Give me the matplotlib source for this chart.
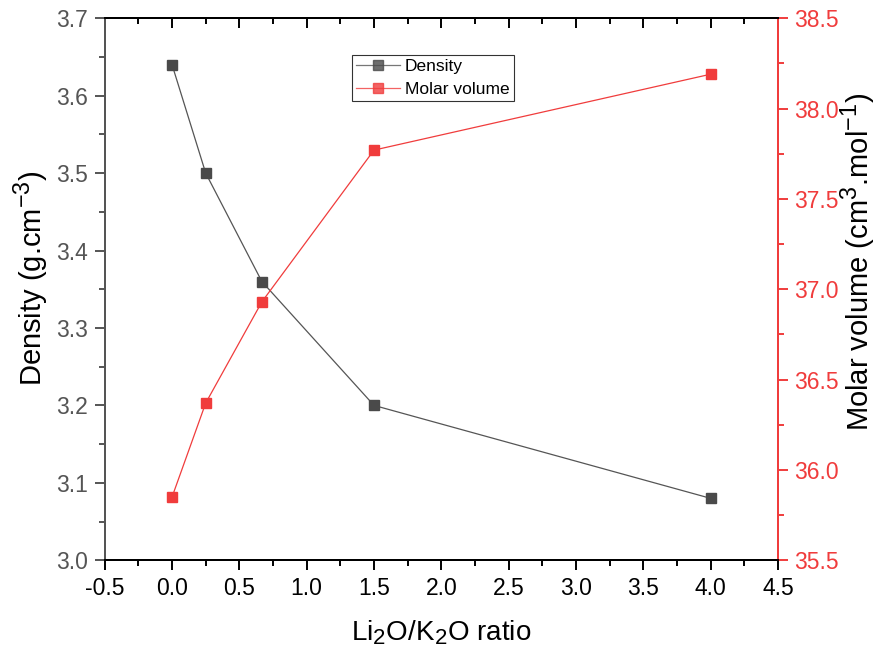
import numpy as np
import matplotlib as mpl
import matplotlib.pyplot as plt
from matplotlib.ticker import MultipleLocator, FormatStrFormatter

mpl.rcParams['font.family'] = ['Liberation Sans', 'DejaVu Sans']
mpl.rcParams['mathtext.fontset'] = 'custom'
mpl.rcParams['mathtext.rm'] = 'Liberation Sans'
mpl.rcParams['mathtext.it'] = 'Liberation Sans:italic'
try:
    # slightly larger super/subscripts, closer to the original
    import matplotlib._mathtext as _mt
    _mt.SHRINK_FACTOR = 0.8
except Exception:
    pass

ratio = [0.0, 0.25, 0.667, 1.5, 4.0]
density = [3.64, 3.50, 3.36, 3.20, 3.08]
molar_volume = [35.85, 36.37, 36.93, 37.77, 38.19]

gray = '#4a4a4a'
red = '#f03c3c'

fig = plt.figure(figsize=(8.8, 6.5), dpi=100)
ax = fig.add_axes([0.119, 0.138, 0.765, 0.834])
ax2 = ax.twinx()

l1, = ax.plot(ratio, density, '-s', color='#555555', mfc=gray, mec=gray,
              lw=0.9, ms=7.5, label='Density')
l2, = ax2.plot(ratio, molar_volume, '-s', color=red, mfc=red, mec=red,
               lw=0.9, ms=7.5, label='Molar volume')

ax.set_xlim(-0.5, 4.5)
ax.set_ylim(3.0, 3.7)
ax2.set_ylim(35.5, 38.5)

ax.xaxis.set_major_locator(MultipleLocator(0.5))
ax.xaxis.set_minor_locator(MultipleLocator(0.25))
ax.yaxis.set_major_locator(MultipleLocator(0.1))
ax.yaxis.set_minor_locator(MultipleLocator(0.05))
ax2.yaxis.set_major_locator(MultipleLocator(0.5))
ax2.yaxis.set_minor_locator(MultipleLocator(0.25))
ax.xaxis.set_major_formatter(FormatStrFormatter('%.1f'))
ax.yaxis.set_major_formatter(FormatStrFormatter('%.1f'))
ax2.yaxis.set_major_formatter(FormatStrFormatter('%.1f'))

# spines
for a in (ax, ax2):
    a.spines['bottom'].set_color('black')
    a.spines['top'].set_color('black')
    a.spines['left'].set_color('#555555')
    a.spines['right'].set_color(red)
    for s in a.spines.values():
        s.set_linewidth(1.4)

ax.tick_params(axis='x', which='both', direction='out', top=False,
               labelsize=16.5, colors='black', width=1.4, pad=5)
ax.tick_params(axis='y', which='both', direction='out', labelsize=16.5,
               colors='#555555', width=1.4, pad=5)
ax2.tick_params(axis='y', which='both', direction='out', labelsize=16.5,
                colors=red, width=1.4, pad=5)
for a in (ax, ax2):
    a.tick_params(which='major', length=7)
    a.tick_params(which='minor', length=4)

# inward ticks on top spine
sec = ax.secondary_xaxis('top')
sec.xaxis.set_major_locator(MultipleLocator(0.5))
sec.xaxis.set_minor_locator(MultipleLocator(0.25))
sec.tick_params(which='both', direction='in', labeltop=False, width=1.4)
sec.tick_params(which='major', length=7)
sec.tick_params(which='minor', length=4)
sec.spines['top'].set_linewidth(1.4)

ax.set_xlabel('Li$_2$O/K$_2$O ratio', fontsize=20, labelpad=13)
ax.set_ylabel('Density (g.cm$^{-3}$)', fontsize=21, labelpad=4)
ax2.set_ylabel('Molar volume (cm$^3$.mol$^{-1}$)', fontsize=21, labelpad=0)
ax.yaxis.label.set_y(0.52)
ax2.yaxis.label.set_y(0.55)

leg = ax2.legend([l1, l2], ['Density', 'Molar volume'], loc='upper left',
                 bbox_to_anchor=(352 / 880, 1 - 55 / 650),
                 bbox_transform=fig.transFigure, fontsize=12.5,
                 frameon=True, fancybox=False, edgecolor='black',
                 handlelength=2.5, borderpad=0.25, labelspacing=0.4,
                 handletextpad=0.3, borderaxespad=0)
leg.get_frame().set_linewidth(0.8)
for h in leg.legend_handles:
    h.set_alpha(0.8)

fig.savefig('out.png', dpi=100)
